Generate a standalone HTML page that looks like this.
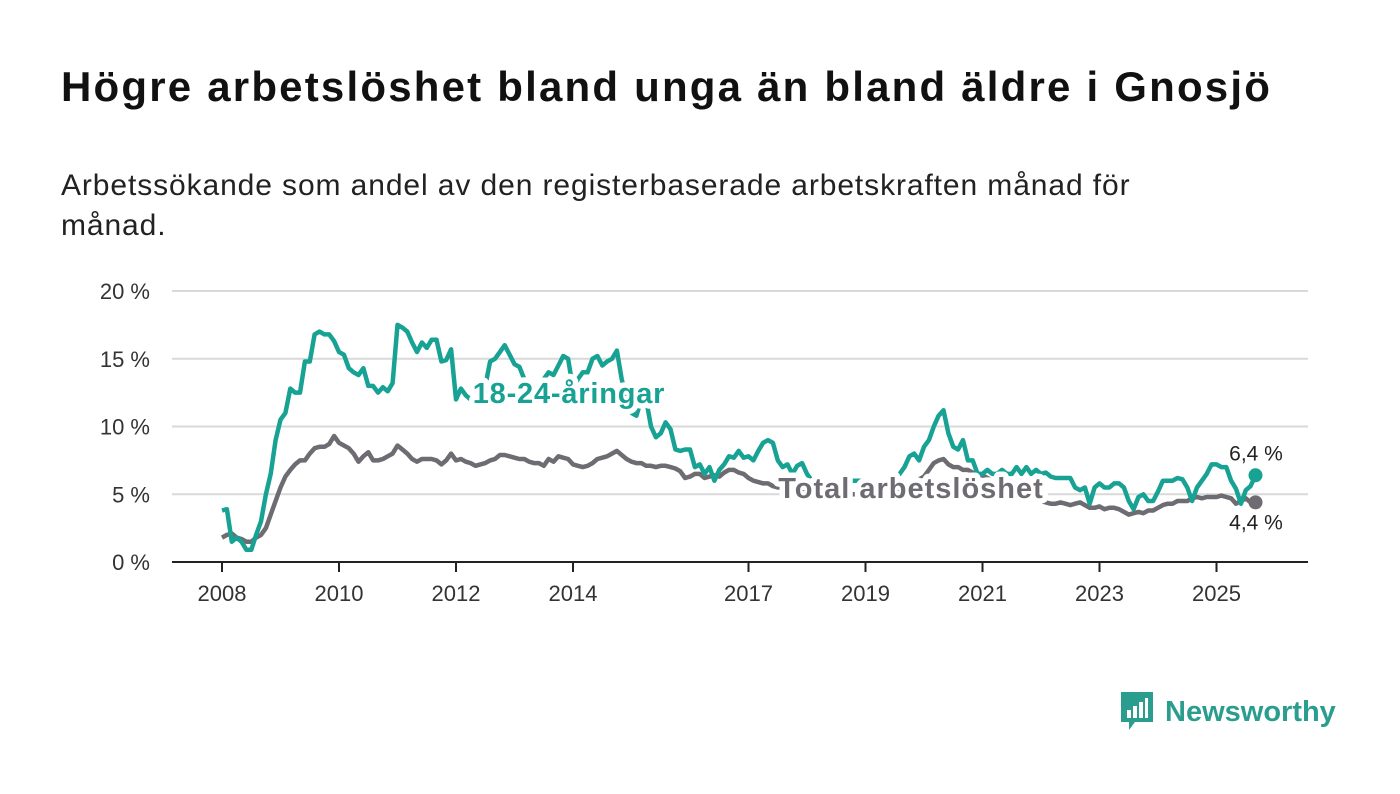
<!DOCTYPE html>
<html><head><meta charset="utf-8"><style>
body{margin:0;background:#fff;width:1400px;height:794px;overflow:hidden;font-family:"Liberation Sans",sans-serif;}
h1{position:absolute;left:61px;top:63px;margin:0;font-size:42px;font-weight:bold;color:#111;letter-spacing:2.2px;white-space:nowrap}
.sub{position:absolute;left:61px;top:166px;margin:0;font-size:30px;line-height:40px;color:#222;width:1300px;letter-spacing:0.9px}
svg{position:absolute;left:0;top:0}
</style></head><body>
<h1>Högre arbetslöshet bland unga än bland äldre i Gnosjö</h1>
<p class="sub">Arbetssökande som andel av den registerbaserade arbetskraften månad för<br>månad.</p>
<svg id="c" width="1400" height="794"></svg>
<script>
const yTicks=[0,5,10,15,20];
const xTickYears=[2008,2010,2012,2014,2017,2019,2021,2023,2025];
const youth=[3.8,3.9,1.5,1.8,1.5,0.9,0.9,2,3,5,6.5,9,
10.5,11,12.8,12.5,12.5,14.8,14.8,16.8,17,16.8,16.8,16.3,
15.5,15.3,14.3,14,13.8,14.3,13,13,12.5,12.9,12.6,13.2,
17.5,17.3,17,16.2,15.5,16.2,15.8,16.4,16.4,14.8,14.9,15.7,
12,12.8,12.3,12,11.5,12,13,14.8,15,15.5,16,15.3,
14.6,14.4,13.5,13.3,13,13,13.5,14,13.8,14.5,15.2,15,
12.8,13.5,14,14,15,15.2,14.5,14.8,15,15.6,13.5,12,
11,10.8,12,12,10,9.2,9.5,10.3,9.8,8.3,8.2,8.3,
8.3,7,7.2,6.5,7,6,6.8,7.2,7.8,7.7,8.2,7.7,
7.8,7.5,8.2,8.8,9,8.8,7.5,7,7.2,6.5,7.1,7.3,
6.5,6,5.5,5.5,5.5,5.5,5.5,5.8,6,6,6,6,
5.8,6,5.6,5.8,6,6,6.2,6.5,7,7.8,8,7.5,
8.5,9,10,10.8,11.2,9.5,8.5,8.3,9,7.5,7.5,6.5,
6.5,6.8,6.5,6.5,6.8,6.5,6.5,7,6.5,7,6.5,6.8,
6.5,6.6,6.3,6.2,6.2,6.2,6.2,5.5,5.3,5.5,4.3,5.5,
5.8,5.5,5.5,5.8,5.8,5.5,4.5,3.9,4.8,5,4.5,4.5,
5.2,6,6,6,6.2,6.1,5.5,4.5,5.5,6,6.5,7.2,
7.2,7,7,6,5.4,4.3,5.3,5.6,6.4];
const total=[1.8,2,2.1,1.8,1.7,1.5,1.5,1.8,2,2.5,3.5,4.5,
5.5,6.3,6.8,7.2,7.5,7.5,8,8.4,8.5,8.5,8.7,9.3,
8.8,8.6,8.4,8,7.4,7.8,8.1,7.5,7.5,7.6,7.8,8,
8.6,8.3,8,7.6,7.4,7.6,7.6,7.6,7.5,7.2,7.5,8,
7.5,7.6,7.4,7.3,7.1,7.2,7.3,7.5,7.6,7.9,7.9,7.8,
7.7,7.6,7.6,7.4,7.3,7.3,7.1,7.6,7.4,7.8,7.7,7.6,
7.2,7.1,7.0,7.1,7.3,7.6,7.7,7.8,8,8.2,7.9,7.6,
7.4,7.3,7.3,7.1,7.1,7.0,7.1,7.1,7.0,6.9,6.7,6.2,
6.3,6.5,6.5,6.2,6.3,6.4,6.3,6.6,6.8,6.8,6.6,6.5,
6.2,6,5.9,5.8,5.8,5.6,5.5,5.5,5.5,5.5,5.4,5.4,
5.3,5.3,5.2,5.2,5.2,5.1,5.1,5.1,5.0,5.0,5.0,5.0,
5,5,5,5,5.1,5.1,5.2,5.2,5.3,5.5,5.8,6.1,
6.3,6.8,7.3,7.5,7.6,7.2,7,7,6.8,6.8,6.6,6.4,
6.4,6.2,6,5.9,5.8,5.7,5.5,5.3,5.1,5,4.8,4.6,
4.5,4.4,4.3,4.3,4.4,4.3,4.2,4.3,4.4,4.2,4.0,4.0,
4.1,3.9,4.0,4.0,3.9,3.7,3.5,3.6,3.7,3.6,3.8,3.8,
4.0,4.2,4.3,4.3,4.5,4.5,4.5,4.7,4.8,4.7,4.8,4.8,
4.8,4.9,4.8,4.7,4.3,4.5,4.7,4.4,4.4];
const startYear=2008;
const NS='http://www.w3.org/2000/svg';
const svg=document.getElementById('c');
const X=t=>222+(t-2008)*58.5;
const Y=v=>562-v*13.55;
function mk(tag,attrs,parent){const e=document.createElementNS(NS,tag);for(const k in attrs)e.setAttribute(k,attrs[k]);(parent||svg).appendChild(e);return e;}
yTicks.forEach(v=>{
  if(v>0){const g=mk('line',{x1:172,x2:1308,y1:Y(v),y2:Y(v),stroke:'#d9d9d9','stroke-width':2});
  
  }
  const t=mk('text',{x:150,y:Y(v)+8,'text-anchor':'end','font-size':22,fill:'#333'});
  t.textContent=v+' %';
  
  
});
const ax=mk('line',{x1:172,x2:1308,y1:562,y2:562,stroke:'#222','stroke-width':2});


xTickYears.forEach(yr=>{
  const tk=mk('line',{x1:X(yr),x2:X(yr),y1:562,y2:572,stroke:'#222','stroke-width':2});
  
  
  const t=mk('text',{x:X(yr),y:601,'text-anchor':'middle','font-size':22,fill:'#333'});
  t.textContent=yr;
  
  
});
function line(arr,color,name){
  const d=arr.map((v,i)=>(i?'L':'M')+X(startYear+i/12).toFixed(1)+','+Y(v).toFixed(1)).join('');
  const p=mk('path',{d:d,fill:'none',stroke:color,'stroke-width':4.5,'stroke-linejoin':'round'});
  
  
  const n=arr.length-1;
  const c=mk('circle',{cx:X(startYear+n/12),cy:Y(arr[n]),r:7,fill:color});
  
  
  return n;
}
line(total,'#6e6c72','total-line');
const n=line(youth,'#17a294','youth-line');
function label(txt,x,y,color,name,size,weight,ls){
  const t=mk('text',{x:x,y:y,'text-anchor':'middle','font-size':size,'font-weight':weight,fill:color,stroke:'#fff','stroke-width':weight==='bold'?11:0,'paint-order':'stroke','stroke-linejoin':'round','letter-spacing':ls||0});
  t.textContent=txt;
  
  
}
label('18-24-åringar',569,403,'#17a294','youth-series-label',29,'bold',0.8);
label('Total arbetslöshet',911,498,'#6e6c72','total-series-label',29,'bold',1);
label(String(youth[n]).replace('.',',')+' %',1256,Y(youth[n])-15,'#222','youth-end-value',21,'normal');
label(String(total[total.length-1]).replace('.',',')+' %',1256,Y(total[total.length-1])+27,'#222','total-end-value',21,'normal');
</script>
<div style="position:absolute;left:1119px;top:690px;height:44px;display:flex;align-items:center">
<svg width="36" height="44" style="position:static"><path d="M2 2h32v30H16l-6 8v-8H2z" fill="#2a9d8f"/><rect x="8" y="20" width="4" height="8" fill="#fff"/><rect x="14" y="16" width="4" height="12" fill="#fff"/><rect x="20" y="12" width="4" height="16" fill="#fff"/><rect x="26" y="8" width="3" height="20" fill="#fff"/></svg>
<span style="font-size:29px;font-weight:bold;color:#2a9d8f;margin-left:10px">Newsworthy</span></div>
</body></html>
